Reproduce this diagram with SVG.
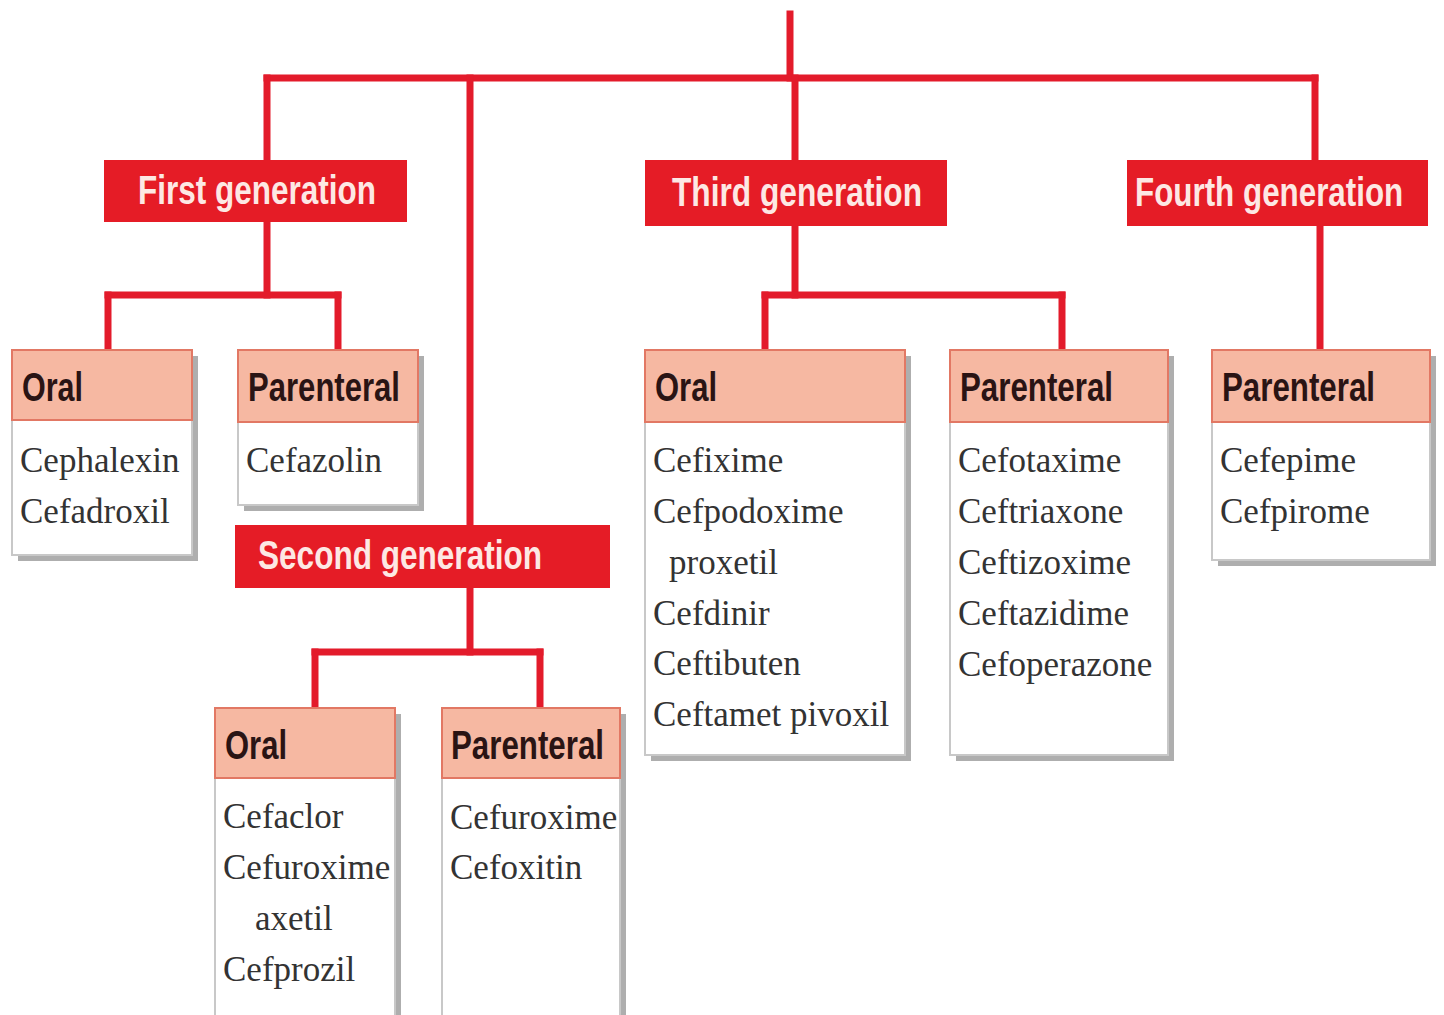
<svg xmlns="http://www.w3.org/2000/svg" width="1444" height="1015" viewBox="0 0 1444 1015">
<defs>
<style>
.ln{stroke:#e31b2b;stroke-width:7;fill:none;stroke-linecap:square}
.gen{fill:#e51c26}
.gt{font-family:"Liberation Sans",Arial,sans-serif;font-weight:bold;font-size:40px;fill:#fde8e4}
.sh{fill:#9a9a9a;opacity:0.8}
.body{fill:#ffffff;stroke:#c8c8c8;stroke-width:2}
.hd{fill:#f6b8a2;stroke:#e27864;stroke-width:2}
.ht{font-family:"Liberation Sans",Arial,sans-serif;font-weight:bold;font-size:40px;fill:#2a1414}
.dt{font-family:"Liberation Serif","Times New Roman",serif;font-size:35px;fill:#333}
</style>
</defs>
<rect width="1444" height="1015" fill="#ffffff"/>
<g id="connectors">
<line class="ln" x1="790" y1="14" x2="790" y2="78"/>
<line class="ln" x1="267" y1="78" x2="1315" y2="78"/>
<line class="ln" x1="267" y1="78" x2="267" y2="160"/>
<line class="ln" x1="795" y1="78" x2="795" y2="160"/>
<line class="ln" x1="1315" y1="78" x2="1315" y2="160"/>
<line class="ln" x1="470" y1="78" x2="470" y2="525"/>
<line class="ln" x1="267" y1="222" x2="267" y2="295"/>
<line class="ln" x1="108" y1="295" x2="338" y2="295"/>
<line class="ln" x1="108" y1="295" x2="108" y2="350"/>
<line class="ln" x1="338" y1="295" x2="338" y2="350"/>
<line class="ln" x1="470" y1="588" x2="470" y2="652"/>
<line class="ln" x1="315" y1="652" x2="540" y2="652"/>
<line class="ln" x1="315" y1="652" x2="315" y2="708"/>
<line class="ln" x1="540" y1="652" x2="540" y2="708"/>
<line class="ln" x1="795" y1="226" x2="795" y2="295"/>
<line class="ln" x1="765" y1="295" x2="1062" y2="295"/>
<line class="ln" x1="765" y1="295" x2="765" y2="350"/>
<line class="ln" x1="1062" y1="295" x2="1062" y2="350"/>
<line class="ln" x1="1320" y1="226" x2="1320" y2="350"/>
</g>
<g id="first-generation">
<rect class="gen" x="104" y="160" width="303" height="62"/>
<text class="gt" x="138" y="204" textLength="238" lengthAdjust="spacingAndGlyphs">First generation</text>
</g>
<g id="second-generation">
<rect class="gen" x="235" y="525" width="375" height="63"/>
<text class="gt" x="258" y="569" textLength="284" lengthAdjust="spacingAndGlyphs">Second generation</text>
</g>
<g id="third-generation">
<rect class="gen" x="645" y="160" width="302" height="66"/>
<text class="gt" x="672" y="206" textLength="250" lengthAdjust="spacingAndGlyphs">Third generation</text>
</g>
<g id="fourth-generation">
<rect class="gen" x="1127" y="160" width="301" height="66"/>
<text class="gt" x="0" y="0" transform="translate(1135,206) scale(0.784,1)">Fourth generation</text>
</g>
<g id="first-oral">
<rect class="sh" x="18" y="356" width="180" height="205"/>
<rect class="body" x="12" y="350" width="180" height="205"/>
<rect class="hd" x="12" y="350" width="180" height="70"/>
<text class="ht" x="22" y="401" textLength="61" lengthAdjust="spacingAndGlyphs">Oral</text>
<text class="dt" x="20" y="472">Cephalexin</text>
<text class="dt" x="20" y="523">Cefadroxil</text>
</g>
<g id="first-parenteral">
<rect class="sh" x="244" y="356" width="180" height="155"/>
<rect class="body" x="238" y="350" width="180" height="155"/>
<rect class="hd" x="238" y="350" width="180" height="72"/>
<text class="ht" x="248" y="401" textLength="152" lengthAdjust="spacingAndGlyphs">Parenteral</text>
<text class="dt" x="246" y="472">Cefazolin</text>
</g>
<g id="second-oral">
<rect class="sh" x="221" y="714" width="180" height="310"/>
<rect class="body" x="215" y="708" width="180" height="310"/>
<rect class="hd" x="215" y="708" width="180" height="70"/>
<text class="ht" x="225" y="759" textLength="62" lengthAdjust="spacingAndGlyphs">Oral</text>
<text class="dt" x="223" y="828">Cefaclor</text>
<text class="dt" x="223" y="879">Cefuroxime</text>
<text class="dt" x="255" y="930">axetil</text>
<text class="dt" x="223" y="981">Cefprozil</text>
</g>
<g id="second-parenteral">
<rect class="sh" x="448" y="714" width="178" height="310"/>
<rect class="body" x="442" y="708" width="178" height="310"/>
<rect class="hd" x="442" y="708" width="178" height="70"/>
<text class="ht" x="451" y="759" textLength="153" lengthAdjust="spacingAndGlyphs">Parenteral</text>
<text class="dt" x="450" y="829">Cefuroxime</text>
<text class="dt" x="450" y="879">Cefoxitin</text>
</g>
<g id="third-oral">
<rect class="sh" x="651" y="356" width="260" height="405"/>
<rect class="body" x="645" y="350" width="260" height="405"/>
<rect class="hd" x="645" y="350" width="260" height="72"/>
<text class="ht" x="655" y="401" textLength="62" lengthAdjust="spacingAndGlyphs">Oral</text>
<text class="dt" x="653" y="472">Cefixime</text>
<text class="dt" x="653" y="523">Cefpodoxime</text>
<text class="dt" x="669" y="574">proxetil</text>
<text class="dt" x="653" y="625">Cefdinir</text>
<text class="dt" x="653" y="675">Ceftibuten</text>
<text class="dt" x="653" y="726">Ceftamet pivoxil</text>
</g>
<g id="third-parenteral">
<rect class="sh" x="956" y="356" width="218" height="405"/>
<rect class="body" x="950" y="350" width="218" height="405"/>
<rect class="hd" x="950" y="350" width="218" height="72"/>
<text class="ht" x="960" y="401" textLength="153" lengthAdjust="spacingAndGlyphs">Parenteral</text>
<text class="dt" x="958" y="472">Cefotaxime</text>
<text class="dt" x="958" y="523">Ceftriaxone</text>
<text class="dt" x="958" y="574">Ceftizoxime</text>
<text class="dt" x="958" y="625">Ceftazidime</text>
<text class="dt" x="958" y="676">Cefoperazone</text>
</g>
<g id="fourth-parenteral">
<rect class="sh" x="1218" y="356" width="218" height="210"/>
<rect class="body" x="1212" y="350" width="218" height="210"/>
<rect class="hd" x="1212" y="350" width="218" height="72"/>
<text class="ht" x="1222" y="401" textLength="153" lengthAdjust="spacingAndGlyphs">Parenteral</text>
<text class="dt" x="1220" y="472">Cefepime</text>
<text class="dt" x="1220" y="523">Cefpirome</text>
</g>
</svg>
